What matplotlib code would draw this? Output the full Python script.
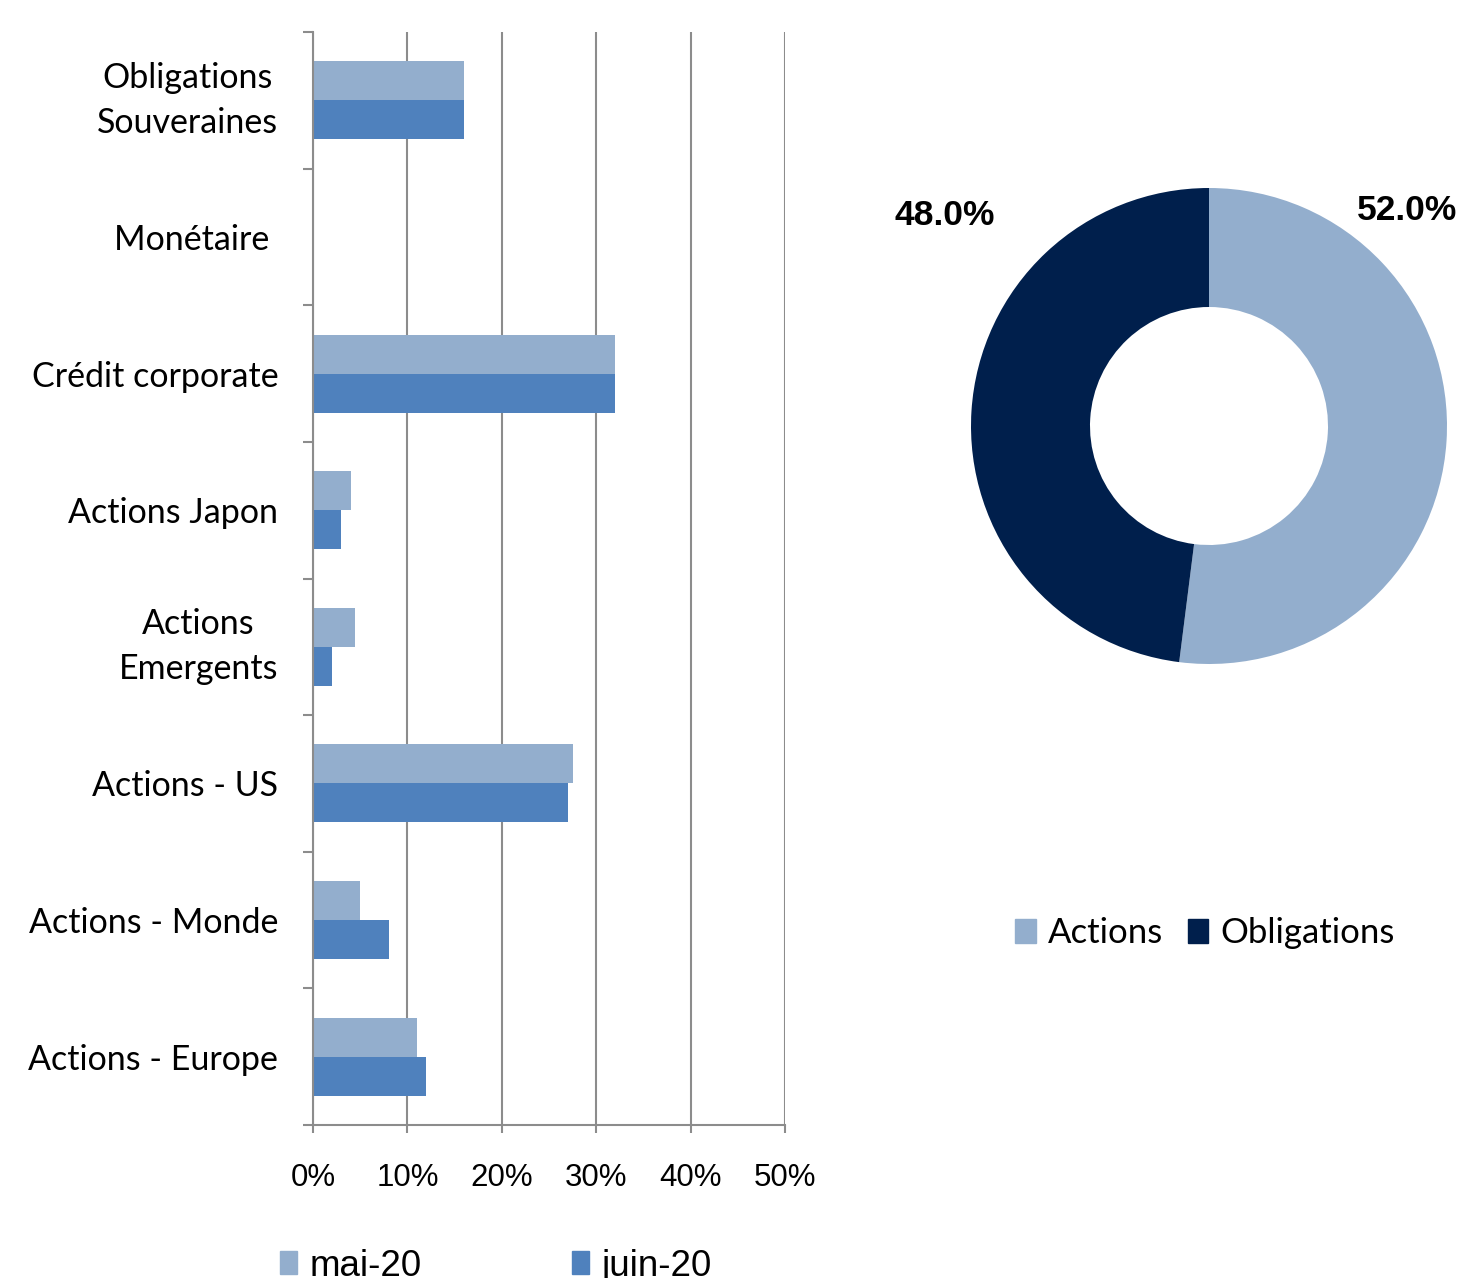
import matplotlib
matplotlib.use("Agg")
import matplotlib.pyplot as plt
from matplotlib.patches import Patch
from matplotlib.ticker import MultipleLocator, FuncFormatter

categories = ["Obligations\nSouveraines", "Monétaire ", "Crédit corporate", "Actions Japon",
              "Actions\nEmergents", "Actions - US", "Actions - Monde", "Actions - Europe"]
mai_20 = [16.0, 0.0, 32.0, 4.0, 4.5, 27.5, 5.0, 11.0]
juin_20 = [16.0, 0.0, 32.0, 3.0, 2.0, 27.0, 8.0, 12.0]
series_names = ["mai-20", "juin-20"]

pie_labels = ["Actions", "Obligations"]
pie_values = [52.0, 48.0]

c_mai = "#93AECD"
c_juin = "#4F81BD"
c_act = "#93AECD"
c_obl = "#001F4C"
grey = "#8C8C8C"
body_font = "Lato"
num_font = "Liberation Sans"

W, H = 1457, 1278
fig = plt.figure(figsize=(W / 100, H / 100), dpi=100)

# ---- bar chart ----
ax = fig.add_axes([313 / W, 1 - 1125 / H, (785 - 313) / W, (1125 - 32) / H])
n = len(categories)
ypos = list(range(n))
bh = 0.285
ax.barh([y - bh / 2 for y in ypos], mai_20, height=bh, color=c_mai, zorder=3)
ax.barh([y + bh / 2 for y in ypos], juin_20, height=bh, color=c_juin, zorder=3)
ax.set_xlim(0, 50)
ax.set_ylim(n - 0.5, -0.5)
ax.xaxis.set_major_locator(MultipleLocator(10))
ax.xaxis.set_major_formatter(FuncFormatter(lambda v, p: f"{v:.0f}%"))
ax.grid(axis="x", color=grey, lw=1.5, zorder=0)
ax.set_yticks(ypos)
ax.set_yticklabels(categories, fontfamily=body_font, fontsize=24.5,
                   multialignment="center", linespacing=1.5)
for lab in ax.get_yticklabels():
    if "\n" in lab.get_text():
        lab.set_verticalalignment("center")
ax.set_yticks([y + 0.5 for y in range(-1, n)], minor=True)
ax.tick_params(axis="y", which="major", length=0, pad=25)
ax.tick_params(axis="y", which="minor", length=7.5, width=1.5, color=grey, direction="out")
ax.tick_params(axis="x", length=6, width=1.5, color=grey, pad=21, labelsize=22.5)
for lab in ax.get_xticklabels():
    lab.set_fontfamily(num_font)
for s in ["top", "right"]:
    ax.spines[s].set_visible(False)
for s in ["left", "bottom"]:
    ax.spines[s].set_color(grey)
    ax.spines[s].set_linewidth(1.5)
    ax.spines[s].set_zorder(4)

fig.legend([Patch(color=c_mai), Patch(color=c_juin)], series_names,
           loc="center left", bbox_to_anchor=(280 / W, 1 - 1266 / H), ncol=2,
           frameon=False, handlelength=0.45, handleheight=0.55, handletextpad=0.35,
           columnspacing=4.1, borderpad=0, borderaxespad=0,
           prop={"family": num_font, "size": 26.5})

# ---- donut ----
R = 238
size = 2.5 * R
pax = fig.add_axes([(1209 - size / 2) / W, 1 - (426 + size / 2) / H, size / W, size / H])
wedges, _ = pax.pie(pie_values, colors=[c_act, c_obl], startangle=90, counterclock=False,
                    wedgeprops=dict(width=0.5, linewidth=0))
pax.set_aspect("equal")
label_pos = [(0.83, 0.905), (-1.11, 0.885)]
for v, (x, y) in zip(pie_values, label_pos):
    pax.text(x, y, f"{v:.1f}%", ha="center", va="center", fontsize=25.5,
             fontweight="bold", family=num_font)

fig.legend([Patch(color=c_act), Patch(color=c_obl)], pie_labels,
           loc="center", bbox_to_anchor=(1205 / W, 1 - 933 / H), ncol=2,
           frameon=False, handlelength=0.6, handleheight=0.7, handletextpad=0.35,
           columnspacing=0.7, borderpad=0, borderaxespad=0,
           prop={"family": body_font, "size": 25})

fig.savefig("out.png", dpi=100)
